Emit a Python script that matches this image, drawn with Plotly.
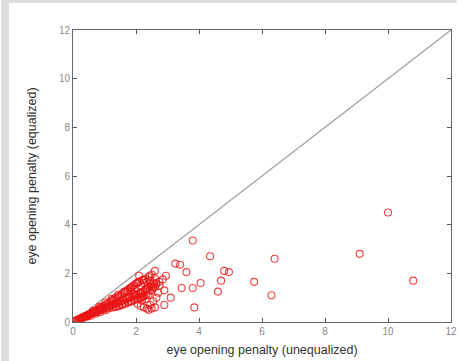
import plotly.graph_objects as go

# Eye opening penalty per channel, without and with equalization
penalty_unequalized = [
    0.03, 0.05, 0.08, 0.10, 0.12, 0.15, 0.18, 0.20, 0.22, 0.25, 0.28, 0.30, 0.33, 0.35, 0.38, 0.40,
    0.42, 0.45, 0.48, 0.50, 0.52, 0.55, 0.58, 0.60, 0.62, 0.65, 0.68, 0.70, 0.72, 0.75, 0.78, 0.80,
    0.82, 0.85, 0.88, 0.90, 0.92, 0.95, 0.98, 1.00, 1.02, 1.05, 1.08, 1.10, 1.12, 1.15, 1.18, 1.20,
    1.22, 1.25, 1.28, 1.30, 1.32, 1.35, 1.38, 1.40, 1.42, 1.45, 1.48, 1.50, 1.52, 1.55, 1.58, 1.60,
    1.62, 1.65, 1.68, 1.70, 1.72, 1.75, 1.78, 1.80, 1.82, 1.85, 1.88, 1.90, 1.92, 1.95, 1.98, 2.00,
    2.02, 2.05, 2.08, 2.10, 2.12, 2.15, 2.18, 2.20, 2.22, 2.25, 2.28, 2.30, 2.32, 2.35, 2.38, 2.40,
    2.42, 2.45, 2.48, 2.50, 2.52, 2.55, 2.58, 2.60, 2.05, 2.15, 2.25, 2.35, 2.45, 2.55, 2.65, 2.70,
    2.30, 2.40, 2.50, 2.60, 2.20, 1.95, 1.85, 2.10, 2.65, 2.75, 2.85, 2.60, 2.95, 2.90, 2.40, 2.50,
    2.60, 3.10, 2.90, 3.25, 3.40, 3.60, 3.80, 3.45, 4.05, 4.60, 4.70, 4.80, 4.95, 4.35, 3.80, 3.85,
    5.75, 6.30, 6.40, 9.10, 10.00, 10.80,
    0.27, 0.44, 0.57, 0.73, 0.86, 0.97, 1.07, 1.17, 1.27, 1.37, 1.47, 1.57, 1.63, 1.74, 1.83, 1.93,
    2.03, 2.13, 2.23, 2.33, 1.36, 1.46, 1.56, 1.66, 1.76, 1.86, 1.96, 2.06, 2.16, 2.26, 0.64, 0.83,
    1.03, 1.23, 1.43, 1.64, 1.84, 2.04, 2.24, 2.44, 2.34, 2.14, 1.94, 2.54, 2.64, 2.74, 2.44, 2.19,
]
penalty_equalized = [
    0.02, 0.03, 0.05, 0.06, 0.07, 0.09, 0.10, 0.12, 0.13, 0.15, 0.16, 0.18, 0.20, 0.21, 0.22, 0.25,
    0.24, 0.28, 0.27, 0.31, 0.30, 0.34, 0.33, 0.38, 0.36, 0.42, 0.38, 0.45, 0.40, 0.48, 0.44, 0.52,
    0.47, 0.56, 0.50, 0.60, 0.52, 0.64, 0.55, 0.68, 0.58, 0.72, 0.60, 0.76, 0.62, 0.80, 0.66, 0.85,
    0.70, 0.88, 0.72, 0.93, 0.75, 0.98, 0.78, 1.02, 0.80, 1.06, 0.84, 1.10, 0.85, 1.15, 0.88, 1.20,
    0.90, 1.25, 0.95, 1.28, 0.98, 1.32, 1.00, 1.38, 1.02, 1.42, 1.05, 1.48, 1.08, 1.52, 1.10, 1.58,
    1.12, 1.62, 1.15, 1.66, 1.18, 1.50, 1.20, 1.72, 1.25, 1.60, 1.30, 1.78, 1.35, 1.65, 1.40, 1.85,
    1.45, 1.70, 1.50, 1.95, 1.55, 1.40, 1.60, 1.80, 0.75, 0.65, 0.60, 0.55, 0.70, 0.85, 1.00, 1.20,
    0.95, 1.10, 1.30, 1.45, 1.05, 1.35, 1.25, 1.90, 1.60, 1.50, 1.75, 2.10, 1.90, 1.30, 0.50, 0.55,
    0.60, 1.00, 0.70, 2.40, 2.35, 2.05, 1.40, 1.40, 1.60, 1.25, 1.70, 2.10, 2.05, 2.70, 3.35, 0.60,
    1.65, 1.10, 2.60, 2.80, 4.50, 1.70,
    0.12, 0.22, 0.26, 0.35, 0.40, 0.47, 0.50, 0.58, 0.60, 0.66, 0.70, 0.74, 0.78, 0.82, 0.86, 0.92,
    0.95, 1.00, 1.05, 1.10, 0.62, 0.65, 0.70, 0.75, 0.80, 0.84, 0.90, 0.95, 1.00, 1.08, 0.46, 0.62,
    0.80, 0.95, 1.12, 1.24, 1.42, 1.58, 1.72, 1.90, 1.35, 1.20, 1.15, 1.45, 1.55, 1.65, 1.28, 0.90,
]
axis_ticks = [0, 2, 4, 6, 8, 10, 12]
axis_range = [0, 12]

# plot box in pixels inside the 463x361 page
W, H = 463, 361
L, R, T, B = 73, 6, 30, 39
pw, ph = W - L - R, H - T - B

fig = go.Figure()

# y = x reference line
fig.add_trace(go.Scatter(
    x=axis_range, y=axis_range, mode="lines",
    line=dict(color="#9a9a9a", width=1.2),
    hoverinfo="skip", showlegend=False,
))

fig.add_trace(go.Scatter(
    x=penalty_unequalized, y=penalty_equalized, mode="markers",
    marker=dict(symbol="circle-open", size=7, color="rgba(235,20,20,0.8)",
                line=dict(width=1.1)),
    showlegend=False,
))

# grey strips along the left and top edges of the page
fig.add_shape(type="rect", xref="paper", yref="paper",
              x0=-L / pw, x1=(8 - L) / pw, y0=-B / ph, y1=(ph + T) / ph,
              fillcolor="#dcdcdc", line=dict(width=0), layer="below")
fig.add_shape(type="rect", xref="paper", yref="paper",
              x0=-L / pw, x1=(W - L) / pw, y0=(ph + T - 3) / ph, y1=(ph + T) / ph,
              fillcolor="#dcdcdc", line=dict(width=0), layer="below")

axis_style = dict(
    range=axis_range, tickvals=axis_ticks, ticks="inside", ticklen=4,
    tickcolor="#555", showline=True, linecolor="#666", linewidth=1,
    mirror="ticks", showgrid=False, zeroline=False,
    tickfont=dict(family="Arial, Liberation Sans", size=10, color="#888"),
    title_font=dict(family="Arial, Liberation Sans", size=12.5, color="#333"),
)

fig.update_layout(
    width=W, height=H,
    margin=dict(l=L, r=R, t=T, b=B),
    paper_bgcolor="white", plot_bgcolor="white",
    xaxis=dict(axis_style, title=dict(text="eye opening penalty (unequalized)", standoff=9)),
    yaxis=dict(axis_style, title=dict(text="eye opening penalty (equalized)", standoff=19)),
)

fig.write_html("out.html")
